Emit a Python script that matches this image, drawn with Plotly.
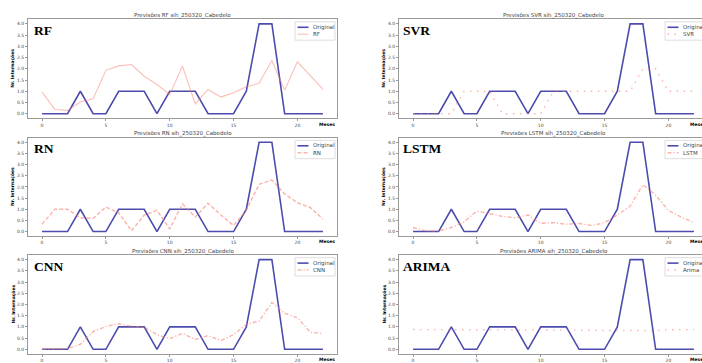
import plotly.graph_objects as go

# ---------------- data ----------------
meses = list(range(23))
original = [0, 0, 0, 1, 0, 0, 1, 1, 1, 0, 1, 1, 1, 0, 0, 0, 1, 4, 4, 0, 0, 0, 0]
rf = [0.96, 0.19, 0.15, 0.52, 0.67, 1.93, 2.13, 2.19, 1.67, 1.30, 0.86, 2.12, 0.44,
      1.08, 0.74, 0.93, 1.20, 1.35, 2.37, 1.05, 2.31, 1.69, 1.08]
svr = [0, 0, 0, 0, 1, 1, 1, 0, 0, 0, 0, 1, 1, 1, 1, 1, 1, 1, 2, 2, 1, 1, 1]
rn = [0.33, 1.00, 1.00, 0.62, 0.59, 1.10, 0.84, 0.03, 0.74, 0.95, 0.12, 1.24, 0.65,
      1.27, 0.74, 0.27, 0.96, 2.12, 2.31, 1.69, 1.29, 1.08, 0.56]
lstm = [0.18, 0.03, 0.03, 0.18, 0.44, 0.92, 0.80, 0.68, 0.62, 0.74, 0.37, 0.40, 0.33,
        0.36, 0.27, 0.40, 0.74, 1.14, 2.10, 1.63, 0.95, 0.65, 0.41]
cnn = [0.01, 0.03, 0.03, 0.22, 0.79, 1.02, 1.14, 1.02, 0.99, 0.65, 0.47, 0.71, 0.44,
       0.61, 0.39, 0.65, 1.11, 1.26, 2.09, 1.60, 1.41, 0.76, 0.70]
arima = [0.88, 0.88, 0.88, 0.87, 0.87, 0.86, 0.86, 0.86, 0.86, 0.86, 0.85, 0.85, 0.85,
         0.85, 0.85, 0.84, 0.83, 0.82, 0.82, 0.83, 0.87, 0.88, 0.88]

model_names = ["RF", "SVR", "RN", "LSTM", "CNN", "ARIMA"]
legend_names = ["RF", "SVR", "RN", "LSTM", "CNN", "Arima"]
predictions = [rf, svr, rn, lstm, cnn, arima]
dashes = ["solid", "1.5px,5.5px", "4px,2px", "4px,2px,1.2px,2px", "4px,2px,1.2px,2px", "1.5px,5.5px"]
city = "sih_250320_Cabedelo"
y_ticks = [0.0, 0.5, 1.0, 1.5, 2.0, 2.5, 3.0, 3.5, 4.0]
x_ticks = [0, 5, 10, 15, 20]

# ---------------- layout geometry (page pixels) ----------------
W, H = 702, 363
col_px = [(28, 337), (399, 702)]
row_px = [(19.5, 119.2), (139, 238), (257.3, 356.7)]
scale = (337 - 28) / 24.2
x_ranges = [[-1.1, 23.1], [-1.1, -1.1 + (702 - 399) / scale]]

ORIG_COLOR = "rgba(0,0,139,0.7)"
PRED_SOLID = "rgba(250,128,114,0.5)"
PRED_DASH = "rgba(250,128,114,0.6)"
AX_COLOR = "#9a9a9a"
TXT = "#444"


def px(x):
    return x / W


def py(y):
    return 1 - y / H


fig = go.Figure()
shapes = []
annotations = []
layout_axes = {}

for i, (name, lname, pred, dash) in enumerate(zip(model_names, legend_names, predictions, dashes)):
    r, c = divmod(i, 2)
    n = i + 1
    xa = "x" if n == 1 else f"x{n}"
    ya = "y" if n == 1 else f"y{n}"
    x0p, x1p = col_px[c]
    y0p, y1p = row_px[r]
    pw = 1.1 if dash == "solid" else 1.4
    pc = PRED_SOLID if dash == "solid" else PRED_DASH

    fig.add_trace(go.Scatter(x=meses, y=original, mode="lines", name="Original",
                             line=dict(color=ORIG_COLOR, width=1.6),
                             xaxis=xa, yaxis=ya, showlegend=False))
    fig.add_trace(go.Scatter(x=meses, y=pred, mode="lines", name=lname,
                             line=dict(color=pc, width=pw, dash=dash),
                             xaxis=xa, yaxis=ya, showlegend=False))

    layout_axes["xaxis" if n == 1 else f"xaxis{n}"] = dict(
        domain=[px(x0p), px(x1p)], range=x_ranges[c], anchor=ya,
        showgrid=False, zeroline=False, showline=True, linecolor=AX_COLOR, linewidth=1,
        mirror=True, ticks="outside", ticklen=2, tickcolor=AX_COLOR,
        tickvals=x_ticks, ticktext=[str(t) for t in x_ticks],
        tickfont=dict(size=4.5, color=TXT, family="DejaVu Sans"))
    layout_axes["yaxis" if n == 1 else f"yaxis{n}"] = dict(
        domain=[py(y1p), py(y0p)], range=[-0.2, 4.2], anchor=xa,
        showgrid=False, zeroline=False, showline=True, linecolor=AX_COLOR, linewidth=1,
        mirror=(c == 0), ticks="outside", ticklen=2, tickcolor=AX_COLOR,
        tickvals=y_ticks, ticktext=[f"{t:.1f}" for t in y_ticks],
        tickfont=dict(size=4.5, color=TXT, family="DejaVu Sans"))

    # title
    annotations.append(dict(text=f"Previsões {name} {city}", xref="paper", yref="paper",
                            x=px(x0p + 154.5), y=py(y0p - 4),
                            xanchor="center", yanchor="middle", showarrow=False,
                            font=dict(size=5.5, color=TXT, family="DejaVu Sans")))
    # big model label
    annotations.append(dict(text=f"<b>{name}</b>", xref="paper", yref="paper",
                            x=px(x0p + (4 if c == 0 else 2)), y=py(y0p + 11),
                            xanchor="left", yanchor="middle", showarrow=False,
                            font=dict(size=13.5, color="black", family="Liberation Serif")))
    # y label
    annotations.append(dict(text="<b>Nr. Internações</b>", xref="paper", yref="paper",
                            x=px(x0p - 15), y=py((y0p + y1p) / 2), textangle=-90,
                            xanchor="center", yanchor="middle", showarrow=False,
                            font=dict(size=4.5, color="black", family="DejaVu Sans")))
    # x label
    annotations.append(dict(text="<b>Meses</b>", xref="paper", yref="paper",
                            x=px(x0p + 309), y=py(y1p + 6),
                            xanchor="right", yanchor="middle", showarrow=False,
                            font=dict(size=4.5, color="black", family="DejaVu Sans")))
    # legend
    lx0 = x0p + (267 if c == 0 else 266)
    ly0 = y0p + 2.5
    shapes.append(dict(type="rect", xref="paper", yref="paper",
                       x0=px(lx0), x1=px(lx0 + 40), y0=py(ly0 + 18.5), y1=py(ly0),
                       line=dict(color="#d6d6d6", width=0.8), fillcolor="rgba(255,255,255,0.85)"))
    shapes.append(dict(type="line", xref="paper", yref="paper",
                       x0=px(lx0 + 2.5), x1=px(lx0 + 13.5), y0=py(ly0 + 5.5), y1=py(ly0 + 5.5),
                       line=dict(color=ORIG_COLOR, width=1.6)))
    shapes.append(dict(type="line", xref="paper", yref="paper",
                       x0=px(lx0 + 2.5), x1=px(lx0 + 13.5), y0=py(ly0 + 12.5), y1=py(ly0 + 12.5),
                       line=dict(color=pc, width=pw, dash=dash)))
    annotations.append(dict(text="Original", xref="paper", yref="paper",
                            x=px(lx0 + 16), y=py(ly0 + 5.5), xanchor="left", yanchor="middle",
                            showarrow=False, font=dict(size=5.5, color=TXT, family="DejaVu Sans")))
    annotations.append(dict(text=lname, xref="paper", yref="paper",
                            x=px(lx0 + 16), y=py(ly0 + 12.5), xanchor="left", yanchor="middle",
                            showarrow=False, font=dict(size=5.5, color=TXT, family="DejaVu Sans")))

fig.update_layout(width=W, height=H, margin=dict(l=0, r=0, t=0, b=0),
                  paper_bgcolor="white", plot_bgcolor="white",
                  shapes=shapes, annotations=annotations, showlegend=False,
                  **layout_axes)

fig.write_html("out.html", config={"displayModeBar": False},
               post_script="document.body.style.margin='0';document.body.style.overflow='hidden';")
